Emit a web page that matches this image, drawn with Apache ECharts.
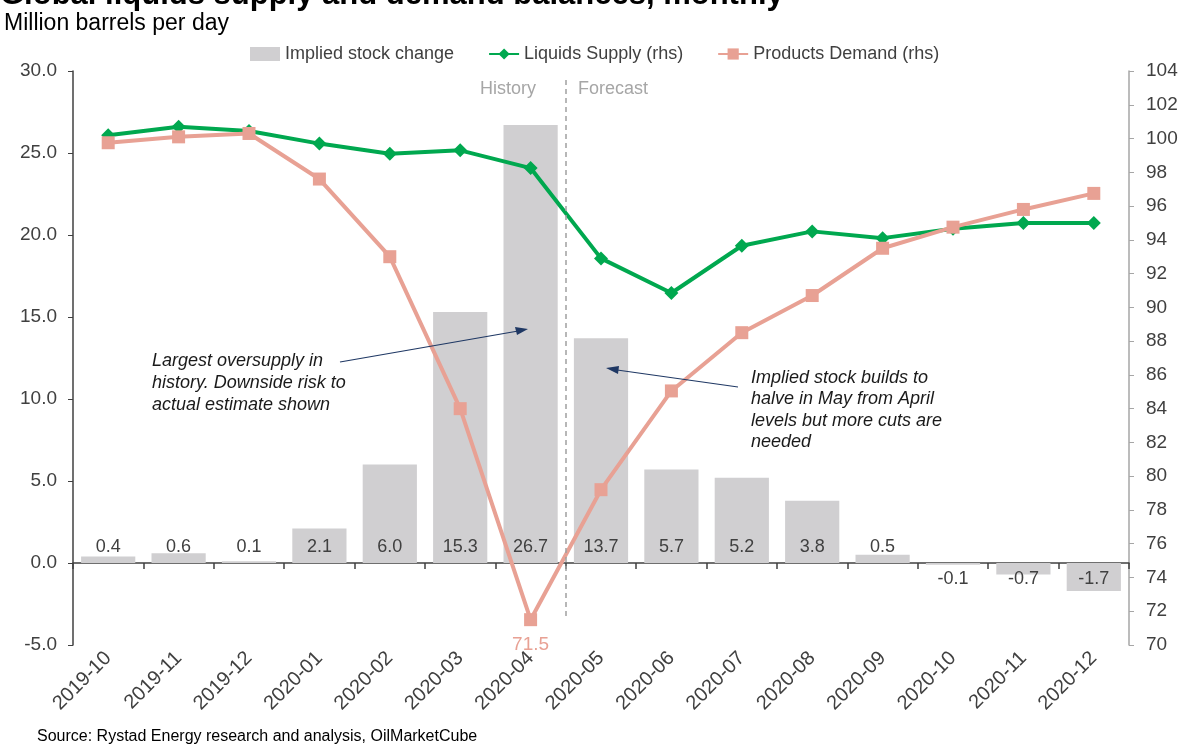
<!DOCTYPE html>
<html>
<head>
<meta charset="utf-8">
<script src="https://cdn.jsdelivr.net/npm/echarts@6/dist/echarts.min.js"></script>
<style>
html,body{margin:0;padding:0;background:#fff;}
#main{width:1187px;height:747px;}
</style>
</head>
<body>
<div id="main"></div>
<script>
const categories = ['2019-10','2019-11','2019-12','2020-01','2020-02','2020-03','2020-04','2020-05','2020-06','2020-07','2020-08','2020-09','2020-10','2020-11','2020-12'];
const stockChange = [0.4, 0.6, 0.1, 2.1, 6.0, 15.3, 26.7, 13.7, 5.7, 5.2, 3.8, 0.5, -0.1, -0.7, -1.7];
const liquidsSupply = [100.2, 100.7, 100.45, 99.7, 99.1, 99.3, 98.25, 92.9, 90.85, 93.65, 94.5, 94.1, 94.65, 95.0, 95.0];
const productsDemand = [99.75, 100.1, 100.3, 97.6, 93.0, 84.0, 71.5, 79.2, 85.05, 88.5, 90.7, 93.5, 94.75, 95.8, 96.75];

const FONT = '"Liberation Sans", Arial, sans-serif';
const TXT = '#404040';
const GRAY_BAR = '#d0cfd1';
const GREEN = '#00a84f';
const SALMON = '#e8a194';

const chart = echarts.init(document.getElementById('main'), null, {renderer: 'canvas'});

const barData = stockChange.map(v => v < 0
  ? {value: v, label: {position: 'insideTop', distance: 7}}
  : {value: v});

const demandData = productsDemand.map((v, i) => i === 6
  ? {value: v, label: {show: true, position: 'bottom', distance: 9, color: SALMON, fontSize: 19, fontFamily: FONT, formatter: p => p.value.toFixed(1)}}
  : v);

const option = {
  backgroundColor: '#fff',
  animation: false,
  textStyle: {fontFamily: FONT},
  title: [
    {text: 'Global liquids supply and demand balances, monthly', left: 0, top: -20, padding: 0,
     textStyle: {fontFamily: FONT, fontSize: 31, fontWeight: 'bold', color: '#000'}},
    {text: 'Million barrels per day', left: 4, top: 12, padding: 0,
     textStyle: {fontFamily: FONT, fontSize: 23, fontWeight: 'normal', color: '#000'}}
  ],
  legend: {
    top: 40, left: 245, itemGap: 34, itemWidth: 30, itemHeight: 14,
    textStyle: {fontFamily: FONT, fontSize: 18, color: TXT},
    data: [{name: 'Implied stock change', icon: 'rect'}, 'Liquids Supply (rhs)', 'Products Demand (rhs)']
  },
  grid: {left: 73, right: 58, top: 71, bottom: 102, containLabel: false},
  xAxis: [
    {type: 'category', data: categories, position: 'bottom',
     axisLine: {show: false, onZero: false}, axisTick: {show: false},
     axisLabel: {rotate: 45, margin: 10, fontSize: 20, color: TXT, fontFamily: FONT, interval: 0}},
    {type: 'category', data: categories, position: 'top',
     axisLine: {show: true, onZero: true, onZeroAxisIndex: 0, lineStyle: {color: '#404040', width: 1.5}},
     axisTick: {show: true, inside: true, length: 6, lineStyle: {color: '#404040', width: 1.5}},
     axisLabel: {show: false}}
  ],
  yAxis: [
    {type: 'value', min: -5, max: 30, interval: 5, position: 'left',
     axisLine: {show: true, lineStyle: {color: '#404040', width: 1.5}},
     axisTick: {show: true, length: 5, lineStyle: {color: '#404040'}},
     splitLine: {show: false},
     axisLabel: {formatter: v => v.toFixed(1), fontSize: 19, color: TXT, fontFamily: FONT, margin: 16}},
    {type: 'value', min: 70, max: 104, interval: 2, position: 'right',
     axisLine: {show: true, lineStyle: {color: '#a6a6a6', width: 1.5}},
     axisTick: {show: true, length: 5, lineStyle: {color: '#a6a6a6'}},
     splitLine: {show: false},
     axisLabel: {fontSize: 19, color: TXT, fontFamily: FONT, margin: 17}}
  ],
  series: [
    {name: 'Implied stock change', type: 'bar', xAxisIndex: 0, yAxisIndex: 0,
     data: barData, barCategoryGap: '23%', itemStyle: {color: GRAY_BAR},
     label: {show: true, position: 'insideBottom', distance: 7, fontSize: 18, color: TXT, fontFamily: FONT,
             formatter: p => p.value.toFixed(1)},
     z: 1},
    {name: 'Liquids Supply (rhs)', type: 'line', xAxisIndex: 0, yAxisIndex: 1,
     data: liquidsSupply, symbol: 'diamond', symbolSize: 14, showAllSymbol: true,
     lineStyle: {color: GREEN, width: 4}, itemStyle: {color: GREEN}, z: 3},
    {name: 'Products Demand (rhs)', type: 'line', xAxisIndex: 0, yAxisIndex: 1,
     data: demandData, symbol: 'rect', symbolSize: 13, showAllSymbol: true,
     lineStyle: {color: SALMON, width: 4}, itemStyle: {color: SALMON}, z: 4}
  ],
  graphic: [
    {type: 'line', shape: {x1: 566, y1: 80, x2: 566, y2: 620}, z: 5,
     style: {stroke: '#a0a0a0', lineWidth: 1.5, lineDash: [5, 4]}},
    {type: 'text', left: 480, top: 80, z: 100, style: {text: 'History', fill: '#a6a6a6', font: '18px ' + FONT}},
    {type: 'text', left: 578, top: 80, z: 100, style: {text: 'Forecast', fill: '#a6a6a6', font: '18px ' + FONT}},
    {type: 'text', left: 152, top: 350, z: 100, style: {text: 'Largest oversupply in\nhistory. Downside risk to\nactual estimate shown',
      fill: '#1a1a1a', font: 'italic 18px ' + FONT, lineHeight: 22}},
    {type: 'text', left: 751, top: 367, z: 100, style: {text: 'Implied stock builds to\nhalve in May from April\nlevels but more cuts are\nneeded',
      fill: '#1a1a1a', font: 'italic 18px ' + FONT, lineHeight: 21.5}},
    {type: 'polyline', z: 100, shape: {points: [[340, 362], [524, 330]]}, style: {stroke: '#1f3864', lineWidth: 1.2}},
    {type: 'polygon', z: 100, shape: {points: [[528, 329], [515, 327], [517, 335]]}, style: {fill: '#1f3864'}},
    {type: 'polyline', z: 100, shape: {points: [[738, 387], [610, 369]]}, style: {stroke: '#1f3864', lineWidth: 1.2}},
    {type: 'polygon', z: 100, shape: {points: [[606, 368], [619, 366], [618, 374]]}, style: {fill: '#1f3864'}},
    {type: 'text', left: 37, top: 729, z: 100, style: {text: 'Source: Rystad Energy research and analysis, OilMarketCube',
      fill: '#000', font: '16px ' + FONT}}
  ]
};
chart.setOption(option);
</script>
</body>
</html>
